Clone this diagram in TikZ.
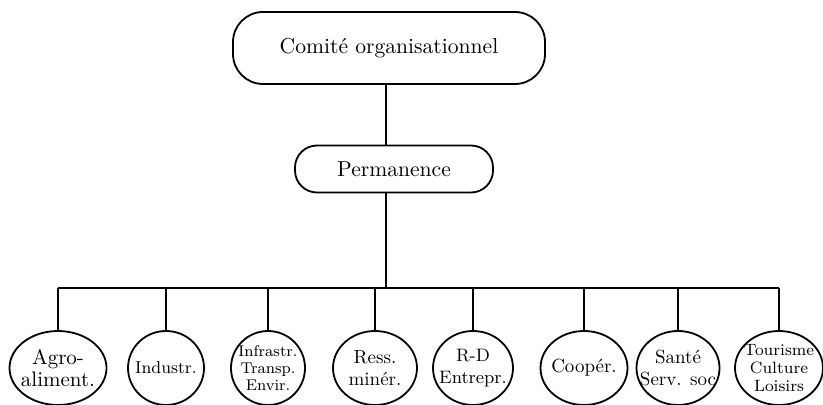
\documentclass[tikz,border=0pt]{standalone}
\usetikzlibrary{shapes.geometric}

\tikzset{
    boite/.style={draw, line width=0.9pt, rounded corners=#1, inner sep=0pt},
    unite/.style={draw, ellipse, line width=0.9pt, inner sep=-5pt, align=center,
        minimum height=37pt, font=\fontsize{9.5}{11}\selectfont},
    petit/.style={font=\fontsize{7.8}{8.6}\selectfont},
    lien/.style={line width=0.9pt}
}

\begin{document}
\begin{tikzpicture}[x=0.5pt, y=-0.5pt]

        \useasboundingbox (0,0) rectangle (823,405);

        % niveau 1 et 2
        \node[boite=15pt, minimum width=156pt, minimum height=36pt,
              font=\fontsize{10.8}{12}\selectfont] (comite) at (389,48) {Comité organisationnel};
        \node[boite=11pt, minimum width=99pt, minimum height=23.5pt,
              font=\fontsize{10.8}{12}\selectfont] (perm) at (394,169) {Permanence};

        % secteurs
        \node[unite, minimum width=48.5pt, font=\fontsize{10.5}{11}\selectfont] (agro) at (58,368) {Agro-\\aliment.};
        \node[unite, minimum width=38pt, font=\fontsize{8.6}{10}\selectfont] (indus) at (166,368) {Industr.};
        \node[unite, petit, minimum width=37pt] (infra) at (268,368) {Infrastr.\\Transp.\\Envir.};
        \node[unite, minimum width=42pt] (ress) at (375,368) {Ress.\\minér.};
        \node[unite, minimum width=40pt, font=\fontsize{9}{11}\selectfont] (rd) at (473,368) {R-D\\Entrepr.};
        \node[unite, minimum width=43.5pt] (coop) at (584,368) {Coopér.};
        \node[unite, minimum width=41.5pt] (sante) at (678,368) {Santé\\Serv. soc};
        \node[unite, minimum width=44pt, font=\fontsize{8.2}{9.2}\selectfont] (tour) at (779,368) {Tourisme\\Culture\\Loisirs};

        \coordinate (barre) at (386,288);

        \draw[lien] (comite.south -| barre) -- (perm.north -| barre);
        \draw[lien] (perm.south -| barre) -- (barre);
        \draw[lien] (agro.north |- barre) -- (tour.north |- barre);
        \foreach \s in {agro,indus,infra,ress,rd,coop,sante,tour}
            \draw[lien] (\s.north) -- (\s.north |- barre);

    \end{tikzpicture}
\end{document}
